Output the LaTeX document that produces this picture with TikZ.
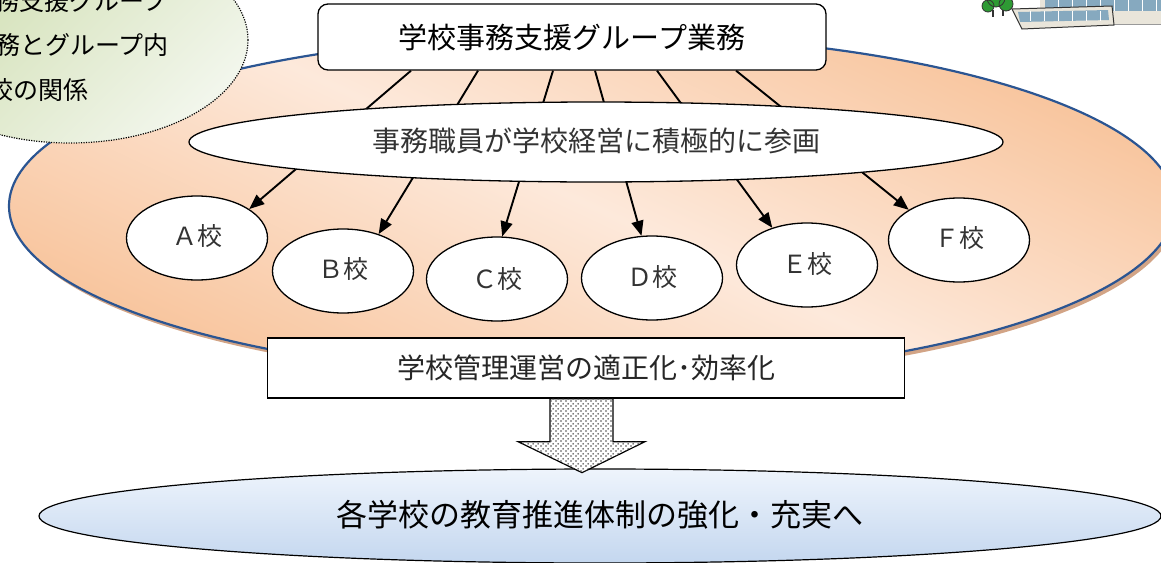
\documentclass[tikz,border=0pt]{standalone}
\usepackage{fontspec}
\setmainfont{Noto Sans CJK JP}
\usetikzlibrary{arrows.meta,shapes.geometric,patterns,calc}
\pgfdeclarelayer{back}
\pgfdeclarelayer{links}
\pgfsetlayers{back,links,main}
% staggered dot screen for the block arrow
\pgfdeclarepatternformonly{screendots}{\pgfqpoint{0pt}{0pt}}{\pgfqpoint{5pt}{5pt}}{\pgfqpoint{5pt}{5pt}}{%
  \pgfpathcircle{\pgfqpoint{1.25pt}{1.25pt}}{1.05pt}%
  \pgfpathcircle{\pgfqpoint{3.75pt}{3.75pt}}{1.05pt}%
  \pgfusepath{fill}}
\definecolor{peachlight}{HTML}{FDE9DB}
\definecolor{peachdark}{HTML}{F8C49C}
\definecolor{peachshadow}{HTML}{D2A486}
\definecolor{rimblue}{HTML}{2B5592}
\definecolor{leafa}{HTML}{CFDEB0}
\definecolor{leafb}{HTML}{F2F6EC}
\definecolor{skya}{HTML}{EEF4FC}
\definecolor{skyb}{HTML}{C4D7EF}
\definecolor{glass}{HTML}{86A9BF}
\definecolor{wall}{HTML}{E9E5DA}
\definecolor{treegreen}{HTML}{2E9A34}
\tikzset{
  fs/.style={font=\fontsize{#1}{#1}\selectfont},
  headbox/.style={draw, line width=1.3pt, rounded corners=10pt, fill=white,
    minimum width=508pt, minimum height=66pt, inner sep=0pt, fs=29},
  aimbox/.style={ellipse, draw, line width=1.3pt, fill=white,
    minimum width=814pt, minimum height=80pt, inner sep=0pt, fs=28, text=black!80},
  school/.style={ellipse, draw, line width=1.3pt, fill=white,
    minimum width=141pt, minimum height=84pt, inner sep=0pt, fs=25, text=black!80},
  resultbox/.style={draw, line width=1.3pt, fill=white,
    minimum width=637pt, minimum height=60pt, inner sep=0pt, fs=28, text=black!85},
  goal/.style={ellipse, draw, line width=1.2pt, top color=skya, bottom color=skyb,
    minimum width=1122pt, minimum height=94pt, inner sep=0pt, fs=31},
  link/.style={line width=1.9pt, -{Triangle[length=15pt,width=12pt]}},
  bubble/.style={ellipse, draw, line width=1.2pt, dash pattern=on 1.2pt off 1.3pt,
    top color=leafa, bottom color=leafb, shading angle=45,
    minimum width=356pt, minimum height=206pt, inner sep=0pt},
  bubbletext/.style={anchor=east, inner sep=0pt, fs=25}
}
\begin{document}
\begin{tikzpicture}[x=1pt,y=-1pt]
\useasboundingbox (0,0) rectangle (1161,562);

% background: group area and note bubble
\begin{pgfonlayer}{back}
  \begin{scope}
    \clip (0,0) rectangle (1161,562);
    \node[ellipse, fill=peachshadow, minimum width=1166pt, minimum height=344pt]
      (zoneshadow) at (595,210) {};
    \node[ellipse, draw=rimblue, line width=2.2pt,
      top color=peachdark, bottom color=peachdark, middle color=peachlight,
      shading angle=-25, minimum width=1166pt, minimum height=344pt]
      (zone) at (592,206) {};
    \node[bubble] (note) at (70,40) {};
    \node[bubbletext] (n1) at (168,1) {務支援グループ};
    \node[bubbletext] (n2) at (169,45) {務とグループ内};
    \node[bubbletext] (n3) at (89,90) {校の関係};
  \end{scope}
\end{pgfonlayer}

% top box
\node[headbox] (head) at (572,37) {学校事務支援グループ業務};

% middle ellipse
\node[aimbox] (aim) at (596,142) {\raisebox{4pt}{事務職員が学校経営に積極的に参画}};

% schools
\node[school] (A) at (197,238) {\raisebox{6pt}{Ａ校}};
\node[school] (B) at (343,271) {\raisebox{6pt}{Ｂ校}};
\node[school] (C) at (497,279) {\raisebox{3pt}{Ｃ校}};
\node[school] (D) at (652,278) {\raisebox{5pt}{Ｄ校}};
\node[school] (E) at (807,265) {\raisebox{5pt}{Ｅ校}};
\node[school] (F) at (959,240) {\raisebox{7pt}{Ｆ校}};

% links from the top box to each school, passing behind the middle ellipse
\coordinate (sA) at ($(head.south)+(-161,0)$);
\coordinate (sB) at ($(head.south)+(-94,0)$);
\coordinate (sC) at ($(head.south)+(-19,0)$);
\coordinate (sD) at ($(head.south)+(23,0)$);
\coordinate (sE) at ($(head.south)+(85,0)$);
\coordinate (sF) at ($(head.south)+(164,0)$);
\begin{pgfonlayer}{links}
  \draw[link] (sA) -- (A.29);
  \draw[link] (sB) -- (B.46);
  \draw[link] (sC) -- (C.83);
  \draw[link] (sD) -- (D.104);
  \draw[link] (sE) -- (E.133);
  \draw[link] (sF) -- (F.149);
\end{pgfonlayer}

% result box
\node[resultbox] (result) at (586,368) {学校管理運営の適正化･効率化};

% goal ellipse
\node[goal] (goal) at (600,516) {\raisebox{6pt}{各学校の教育推進体制の強化・充実へ}};

% dotted block arrow from the result box down to the goal
\coordinate (r0) at (result.south);
\path[draw, line width=1.2pt, fill=white, postaction={pattern=screendots, pattern color=black!70}]
  ($(r0)+(-36,0)$) -- ($(r0)+(27,0)$) -- ($(r0)+(27,43)$) -- ($(r0)+(59,43)$)
  -- ($(r0)+(-4,74)$) -- ($(r0)+(-68,43)$) -- ($(r0)+(-36,43)$) -- cycle;

% small school building in the corner
\begin{scope}
  \clip (0,0) rectangle (1161,562);
  \fill[wall] (1040,-2) rectangle (1165,24);
  \fill[glass] (1045,-2) rectangle (1165,11);
  \foreach \x in {1058,1072,1086,1100,1114,1128,1142,1156}
    \draw[white, line width=0.8pt] (\x,-2) -- (\x,11);
  \draw[black!40, line width=0.8pt] (1040,24) -- (1165,24);
  \filldraw[fill=wall, draw=black!80, line width=1pt]
    (1012,9) -- (1112,6) -- (1114,25) -- (1022,29) -- cycle;
  \fill[glass] (1018,12) -- (1108,10) -- (1109,20) -- (1020,22) -- cycle;
  \foreach \x in {1030,1044,1058,1072,1086,1100}
    \draw[white, line width=0.7pt] (\x,11) -- (\x,21);
  \filldraw[fill=treegreen, draw=black!80, line width=0.8pt]
    (996,-2) circle (9) (1006,4) circle (7) (988,6) circle (6);
  \draw[black!80, line width=1.5pt] (993,10) -- (993,17) (1003,10) -- (1003,16);
\end{scope}
\end{tikzpicture}
\end{document}
